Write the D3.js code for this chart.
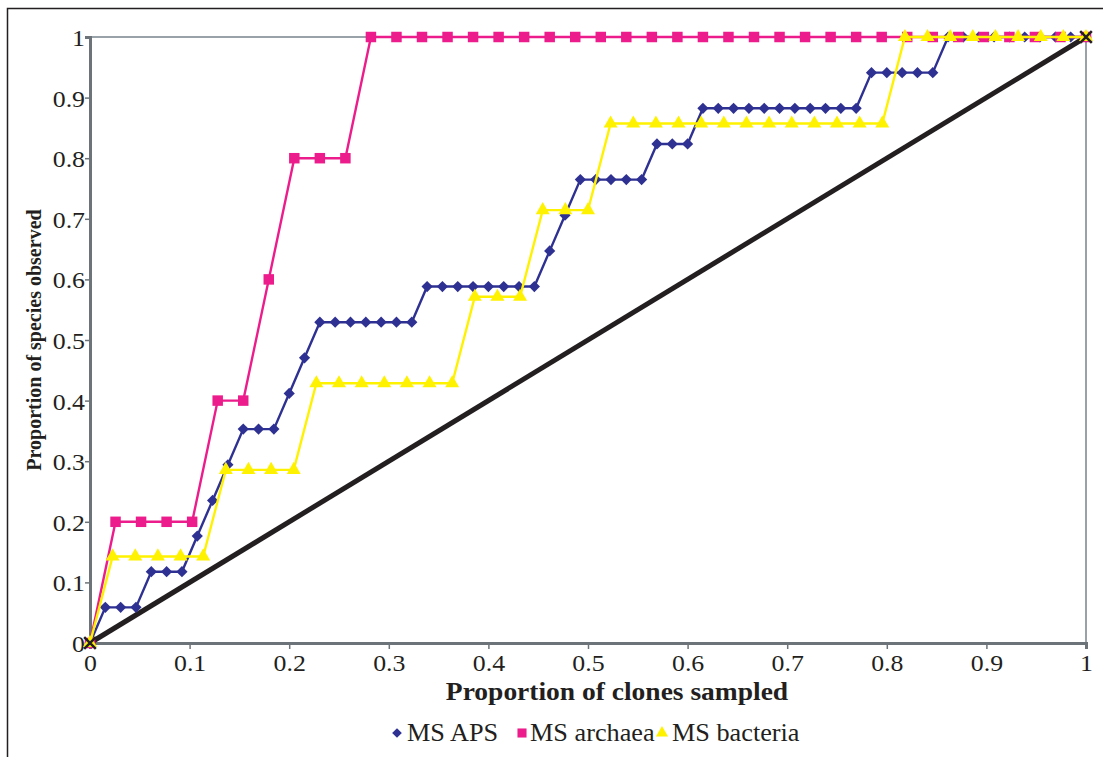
<!DOCTYPE html>
<html lang="en">
<head>
<meta charset="UTF-8">
<script src="https://d3js.org/d3.v7.min.js"></script>
<style>
  body { margin: 0; background: #fff; }
</style>
</head>
<body>
<div id="plot"></div>
<script>
// species observed (cumulative count) after each clone sampled
const apsCounts = [0,1,1,1,2,2,2,3,4,5,6,6,6,7,8,9,9,9,9,9,9,9,10,10,10,10,10,10,10,10,
                   11,12,13,13,13,13,13,14,14,14,15,15,15,15,15,15,15,15,15,15,15,
                   16,16,16,16,16,17,17,17,17,17,17,17,17,17,17];
const apsSpecies = 17;
const archaeaCounts = [0,1,1,1,1,2,2,3,4,4,4,5,5,5,5,5,5,5,5,5,5,5,5,5,5,5,5,5,5,5,5,5,5,5,5,5,5,5,5,5];
const archaeaSpecies = 5;
const bacteriaCounts = [0,1,1,1,1,1,2,2,2,2,3,3,3,3,3,3,3,4,4,4,5,5,5,
                        6,6,6,6,6,6,6,6,6,6,6,6,6,7,7,7,7,7,7,7,7,7];
const bacteriaSpecies = 7;
const randomLine = [[0, 0], [1, 1]];

const xTicks = [0,0.1,0.2,0.3,0.4,0.5,0.6,0.7,0.8,0.9,1];
const yTicks = [0,0.1,0.2,0.3,0.4,0.5,0.6,0.7,0.8,0.9,1];
const seriesNames = ["MS APS", "MS archaea", "MS bacteria"];
const seriesColors = ["#2e3192", "#ec1c8c", "#fff200"];

const serif = "'Times New Roman', 'Liberation Serif', 'DejaVu Serif', serif";
const stretch = 1.1;   // the picture's text is a bit wider than it is tall

function toPoints(counts, total) {
  const n = counts.length - 1;
  return counts.map((c, i) => [i / n, c / total]);
}

const series = [
  {name: seriesNames[0], color: seriesColors[0], symbol: d3.symbolDiamond2, size: 80, pts: toPoints(apsCounts, apsSpecies)},
  {name: seriesNames[1], color: seriesColors[1], symbol: d3.symbolSquare, size: 110, pts: toPoints(archaeaCounts, archaeaSpecies)},
  {name: seriesNames[2], color: seriesColors[2], symbol: d3.symbolTriangle, size: 85, pts: toPoints(bacteriaCounts, bacteriaSpecies)}
];

const width = 1103, height = 757;
const margin = {top: 37, right: 17, bottom: 114, left: 90};
const plotW = width - margin.left - margin.right;
const plotH = height - margin.top - margin.bottom;

const svg = d3.select('#plot').append('svg')
    .attr('width', width)
    .attr('height', height)
    .style('font-family', serif);

// outer frame (only left and top edges visible)
svg.append('path')
    .attr('d', `M7.5,${height} V8.5 H${width}`)
    .attr('fill', 'none')
    .attr('stroke', '#231f20')
    .attr('stroke-width', 1.5);

const x = d3.scaleLinear().domain([0, 1]).range([0, plotW]);
const y = d3.scaleLinear().domain([0, 1]).range([plotH, 0]);

const g = svg.append('g')
    .attr('transform', `translate(${margin.left}, ${margin.top})`);

// top and right plot border
g.append('path')
    .attr('d', `M0,0 H${plotW} V${plotH}`)
    .attr('fill', 'none')
    .attr('stroke', '#98a2a8')
    .attr('stroke-width', 2);

// axes
const xAxis = g.append('g')
    .attr('transform', `translate(0, ${plotH})`)
    .call(d3.axisBottom(x).tickValues(xTicks).tickSize(6).tickPadding(5).tickFormat(d3.format('')));
const yAxis = g.append('g')
    .call(d3.axisLeft(y).tickValues(yTicks).tickSize(5).tickPadding(0).tickFormat(d3.format('')));

[xAxis, yAxis].forEach(ax => {
  ax.attr('font-family', null).attr('font-size', null);
  ax.select('.domain').attr('stroke', '#6d7479').attr('stroke-width', 3);
  ax.selectAll('.tick line').attr('stroke', '#6d7479').attr('stroke-width', 1.5);
  ax.selectAll('.tick text')
    .attr('fill', '#231f20')
    .style('font-family', serif)
    .style('font-size', '23.5px');
});
yAxis.selectAll('.tick text')
    .attr('dy', '0.36em')
    .attr('x', -5 / stretch)
    .attr('transform', `scale(${stretch},1)`);
xAxis.selectAll('.tick text')
    .attr('dy', '0.72em')
    .attr('transform', `scale(${stretch},1)`);

// axis titles
svg.append('text')
    .attr('transform', `translate(${margin.left + plotW / 2 + 29}, 700) scale(${stretch},1)`)
    .attr('text-anchor', 'middle')
    .attr('fill', '#231f20')
    .style('font-size', '25px')
    .style('font-weight', 'bold')
    .text('Proportion of clones sampled');

svg.append('text')
    .attr('transform', `translate(41, ${margin.top + plotH / 2}) rotate(-90)`)
    .attr('text-anchor', 'middle')
    .attr('fill', '#231f20')
    .style('font-size', '20px')
    .style('font-weight', 'bold')
    .text('Proportion of species observed');

// diagonal reference line
const line = d3.line().x(d => x(d[0])).y(d => y(d[1]));
g.append('path')
    .datum(randomLine)
    .attr('d', line)
    .attr('fill', 'none')
    .attr('stroke', '#231f20')
    .attr('stroke-width', 5);

// series
series.forEach(s => {
  g.append('path')
      .datum(s.pts)
      .attr('d', line)
      .attr('fill', 'none')
      .attr('stroke', s.color)
      .attr('stroke-width', 2.4);
  g.selectAll(null)
    .data(s.pts)
    .join('path')
      .attr('transform', d => `translate(${x(d[0])}, ${y(d[1])})`)
      .attr('d', d3.symbol().type(s.symbol).size(s.size))
      .attr('fill', s.color);
});

// X markers at the ends of the reference line
g.selectAll(null)
  .data(randomLine)
  .join('path')
    .attr('transform', d => `translate(${x(d[0])}, ${y(d[1])})`)
    .attr('d', d3.symbol().type(d3.symbolX).size(90))
    .attr('fill', 'none')
    .attr('stroke', '#231f20')
    .attr('stroke-width', 2.5);

// legend
const legendMarkX = [397, 522, 662];
const legendTextX = [407, 530, 672];
const legend = svg.append('g').attr('transform', 'translate(0, 733)');
series.forEach((s, i) => {
  legend.append('path')
      .attr('transform', `translate(${legendMarkX[i]}, 0)`)
      .attr('d', d3.symbol().type(s.symbol).size(s.size * 0.75))
      .attr('fill', s.color);
  legend.append('text')
      .attr('transform', `translate(${legendTextX[i]}, 8) scale(1.05,1)`)
      .attr('fill', '#231f20')
      .style('font-size', '25px')
      .text(s.name);
});
</script>
</body>
</html>
